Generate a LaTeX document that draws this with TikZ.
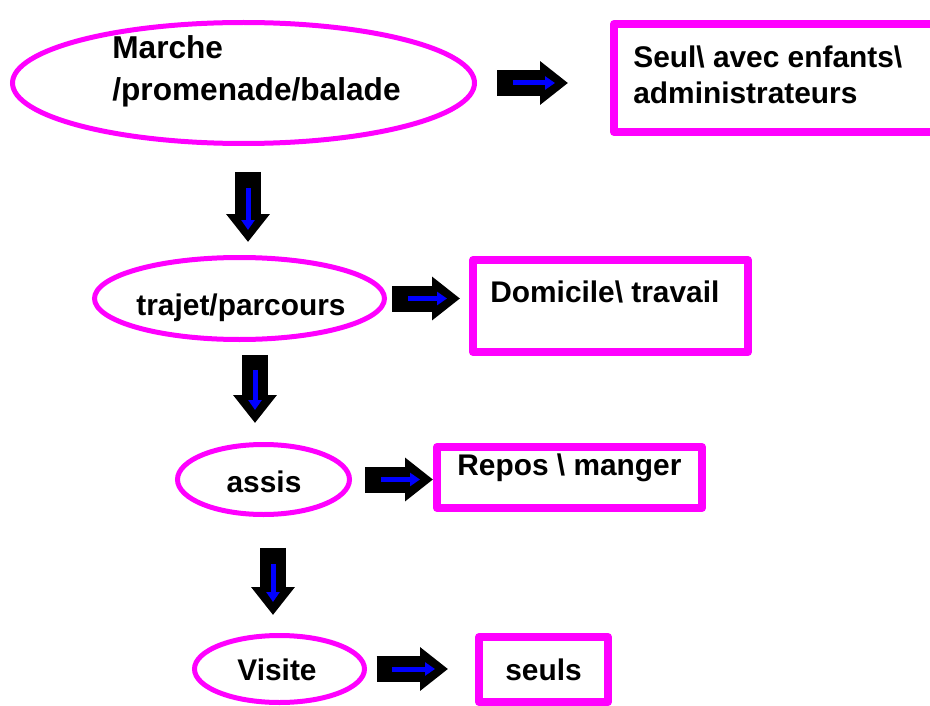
\documentclass[tikz,border=0pt]{standalone}
\usepackage{fontspec}
\setmainfont{Liberation Sans}
\usetikzlibrary{arrows.meta,shapes.geometric,calc}
\newlength\px
\setlength\px{0.02cm}
\definecolor{rose}{RGB}{255,0,255}
\definecolor{bleu}{RGB}{0,0,255}

\begin{document}
\begin{tikzpicture}[x=1\px, y=-1\px,
  oval/.style={ellipse, draw=rose, line width=5\px, inner sep=0pt, outer sep=0pt},
  cadre/.style={draw=rose, line width=8\px, line join=round, inner sep=0pt, outer sep=0pt, font=\bfseries\fontsize{17}{20.5}\selectfont},
  txt/.style={font=\bfseries\fontsize{17}{20.5}\selectfont, inner sep=0pt, align=left},
  gros/.style={line width=26\px, line join=round, -{Triangle[length=0.56cm, width=0.84cm]}},
  fin/.style={draw=bleu, line width=5\px, -{Triangle[length=0.2cm, width=0.26cm]}}]
\useasboundingbox (0,0) rectangle (930,706);
\clip (0,0) rectangle (930,706);

% ovales
\node[oval, minimum width=462\px, minimum height=121\px] (e1) at (243.5,83) {};
\node[oval, minimum width=290\px, minimum height=82\px] (e2) at (239.5,298.5) {};
\node[oval, minimum width=172\px, minimum height=70\px] (e3) at (263.5,479.5) {};
\node[oval, minimum width=170\px, minimum height=67\px] (e4) at (279.5,669) {};

\node[txt, anchor=north west, font=\bfseries\fontsize{18}{23.9}\selectfont] (t1) at (112,35) {Marche\\/promenade/balade};
\node[txt, anchor=base] (t2) at (241,315) {trajet/parcours};
\node[txt, anchor=base] (t3) at (264,492) {assis};
\node[txt, anchor=base] (t4) at (277,680) {Visite};

% cadres
\node[cadre, minimum width=331\px, minimum height=108\px] (b1) at (779.5,78) {};
\node[cadre, minimum width=275\px, minimum height=92\px] (b2) at (610.5,306) {};
\node[cadre, minimum width=265\px, minimum height=61\px] (b3) at (569.5,477.5) {};
\node[cadre, minimum width=129\px, minimum height=65\px] (b4) at (543.5,669.5) {seuls};

\node[txt, anchor=north west] (s1) at (633,45) {Seul\textbackslash{} avec enfants\textbackslash\\administrateurs};
\node[txt, anchor=base west] (s2) at (490,302) {Domicile\textbackslash{} travail};
\node[txt, anchor=base west] (s3) at (457,475) {Repos \textbackslash{} manger};

% fleches horizontales
\draw[gros, shorten <=0.45cm, shorten >=0.92cm] (e1.east) -- (e1.east -| b1.west);
\draw[fin, shorten <=0.77cm, shorten >=1.18cm] (e1.east) -- (e1.east -| b1.west);
\draw[gros, shorten <=0.15cm, shorten >=0.26cm] (e2.east) -- (e2.east -| b2.west);
\draw[fin, shorten <=0.47cm, shorten >=0.52cm] (e2.east) -- (e2.east -| b2.west);
\draw[gros, shorten <=0.31cm, shorten >=0.08cm] (e3.east) -- (e3.east -| b3.west);
\draw[fin, shorten <=0.63cm, shorten >=0.34cm] (e3.east) -- (e3.east -| b3.west);
\draw[gros, shorten <=0.24cm, shorten >=0.62cm] (e4.east) -- (e4.east -| b4.west);
\draw[fin, shorten <=0.56cm, shorten >=0.88cm] (e4.east) -- (e4.east -| b4.west);

% fleches verticales
\draw[gros, shorten <=0.57cm, shorten >=0.31cm] ($(e1.south)+(4.5,0)$) -- ($(e1.south |- e2.north)+(4.5,0)$);
\draw[fin, shorten <=0.89cm, shorten >=0.55cm] ($(e1.south)+(4.5,0)$) -- ($(e1.south |- e2.north)+(4.5,0)$);
\draw[gros, shorten <=0.31cm, shorten >=0.43cm] ($(e2.south)+(15.5,0)$) -- ($(e2.south |- e3.north)+(15.5,0)$);
\draw[fin, shorten <=0.61cm, shorten >=0.69cm] ($(e2.south)+(15.5,0)$) -- ($(e2.south |- e3.north)+(15.5,0)$);
\draw[gros, shorten <=0.67cm, shorten >=0.41cm] ($(e3.south)+(9.5,0)$) -- ($(e3.south |- e4.north)+(9.5,0)$);
\draw[fin, shorten <=0.99cm, shorten >=0.67cm] ($(e3.south)+(9.5,0)$) -- ($(e3.south |- e4.north)+(9.5,0)$);
\end{tikzpicture}
\end{document}
